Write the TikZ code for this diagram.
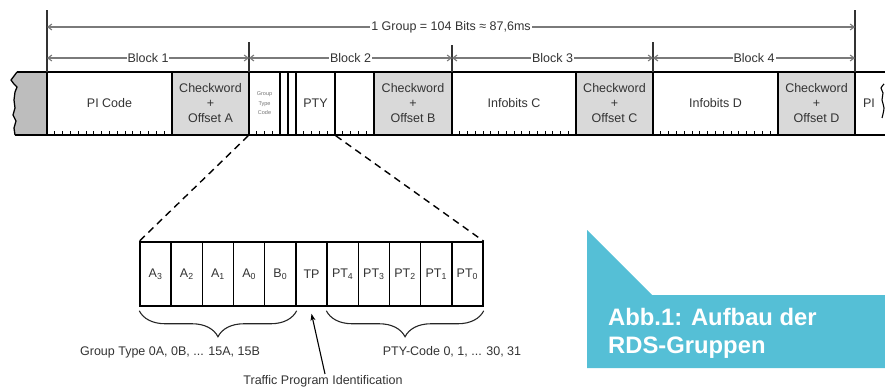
\documentclass[tikz,border=0pt]{standalone}
\usepackage{fontspec}
\setmainfont{Liberation Sans}
\usetikzlibrary{arrows.meta,decorations.pathreplacing,calc}
\definecolor{cwgray}{HTML}{D9D9D9}
\definecolor{torngray}{HTML}{BDBDBD}
\definecolor{dimgray}{HTML}{7A7A7A}
\definecolor{txt}{HTML}{333333}
\definecolor{callout}{HTML}{55BFD6}
\begin{document}
\begin{tikzpicture}[x=1pt,y=-1pt,
  cell/.style={draw=black, line width=1.5pt, inner sep=0pt, minimum height=63pt, text=txt,
    font=\fontsize{12.5}{15}\selectfont, align=center},
  gcell/.style={cell, fill=cwgray},
  lcell/.style={draw=black, line width=1.5pt, inner sep=0pt, minimum width=31.18pt,
    minimum height=64pt, text=txt, font=\fontsize{12.5}{14}\selectfont},
  dim/.style={draw=dimgray, line width=1.1pt,
    {Straight Barb[length=4pt,width=6pt]}-{Straight Barb[length=4pt,width=6pt]}},
  dimlabel/.style={fill=white, inner sep=1pt, text=txt, font=\fontsize{12.5}{15}\selectfont},
  lbl/.style={text=txt, font=\fontsize{12.5}{15}\selectfont, inner sep=0pt},
  tickmark/.style={line width=1pt},
  ext/.style={line width=1.3pt, draw=black!80},
]
\path[use as bounding box] (0,0) rectangle (885,388);

% torn left edge
\fill[torngray] (47,72) -- (17,72) -- (14,76) -- (11,80) -- (14,84) -- (17,87) -- (15,92) -- (14,100)
  -- (15,108) -- (13,115) -- (16,121) -- (14,128) -- (15,135) -- (47,135) -- cycle;
\draw[line width=1.3pt, line join=round] (17,72) -- (14,76) -- (11,80) -- (14,84) -- (17,87) -- (15,92)
  -- (14,100) -- (15,108) -- (13,115) -- (16,121) -- (14,128) -- (15,135);

% cells of the group
\node[cell, minimum width=125pt] (pi) at (109.5,103.5) {PI Code};
\node[gcell, minimum width=77pt] (cwA) at (210.5,103.5) {Checkword\\+\\Offset A};
\node[cell, minimum width=31pt, font=\fontsize{5.5}{9.5}\selectfont, text=black!55] (gtc) at (264.5,103.5) {Group\\Type\\Code};
\node[cell, minimum width=8pt] (bz) at (284,103.5) {};
\node[cell, minimum width=8pt] (tpb) at (292,103.5) {};
\node[cell, minimum width=39pt] (pty) at (315.5,103.5) {PTY};
\node[cell, minimum width=39pt] (rest) at (354.5,103.5) {};
\node[gcell, minimum width=78pt] (cwB) at (413,103.5) {Checkword\\+\\Offset B};
\node[cell, minimum width=124pt] (infC) at (514,103.5) {Infobits C};
\node[gcell, minimum width=77pt] (cwC) at (614.5,103.5) {Checkword\\+\\Offset C};
\node[cell, minimum width=125pt] (infD) at (715.5,103.5) {Infobits D};
\node[gcell, minimum width=77pt] (cwD) at (816.5,103.5) {Checkword\\+\\Offset D};
\node[lbl] (pinext) at (869,103.5) {PI};

% frame lines
\draw[line width=1.6pt] (17,72) -- (885,72);
\draw[line width=1.6pt] (15,135) -- (885,135);
\draw[line width=1.1pt] plot[smooth] coordinates {(884,84) (881,88) (883,93) (882,100) (884,108) (882,118)};

% bit ticks
\foreach \k in {1,...,15}{
  \draw[tickmark] ({47+\k*7.8125},135) -- ++(0,-4);
  \draw[tickmark] ({249+\k*7.8125},135) -- ++(0,-4);
  \draw[tickmark] ({452+\k*7.75},135) -- ++(0,-4);
  \draw[tickmark] ({653+\k*7.8125},135) -- ++(0,-4);
}

% extension lines
\draw[ext] (47,10) -- (47,72);
\draw[ext] (855,10) -- (855,72);
\draw[ext] (249,42) -- (249,72);
\draw[ext] (452,45) -- (452,72);
\draw[ext] (653,42) -- (653,72);

% dimension lines
\coordinate (gL) at (47,27); \coordinate (gR) at (855,27);
\coordinate (b1) at (47,58); \coordinate (b2) at (249,58); \coordinate (b3) at (452,58);
\coordinate (b4) at (653,58); \coordinate (b5) at (855,58);
\draw[dim] (gL) -- (gR) node[dimlabel, midway] (grp) {1 Group = 104 Bits ≈ 87,6ms};
\draw[dim] (b1) -- (b2) node[dimlabel, midway] (blk1) {Block 1};
\draw[dim] (b2) -- (b3) node[dimlabel, midway] (blk2) {Block 2};
\draw[dim] (b3) -- (b4) node[dimlabel, midway] (blk3) {Block 3};
\draw[dim] (b4) -- (b5) node[dimlabel, midway] (blk4) {Block 4};

% lower expanded cells
\foreach \n/\t [count=\i from 0] in {a3/A\textsubscript{3}, a2/A\textsubscript{2}, a1/A\textsubscript{1},
  a0/A\textsubscript{0}, b0/B\textsubscript{0}, tp/TP, pt4/PT\textsubscript{4}, pt3/PT\textsubscript{3},
  pt2/PT\textsubscript{2}, pt1/PT\textsubscript{1}, pt0/PT\textsubscript{0}}{
  \node[lcell] (\n) at ({140+31.1818*(\i+0.5)},274) {\t};
}

% zoom lines
\draw[line width=1.4pt, dash pattern=on 7pt off 5pt] (gtc.south west) -- (a3.north west);
\draw[line width=1.4pt, dash pattern=on 7pt off 5pt] (pty.south east) -- (pt0.north east);

% braces
\draw[decorate, decoration={brace, mirror, amplitude=26pt}, line width=1.1pt, draw=black!85]
  ($(a3.south west)+(0,4)$) -- ($(b0.south east)+(0,4)$);
\draw[decorate, decoration={brace, mirror, amplitude=26pt}, line width=1.1pt, draw=black!85]
  ($(pt4.south west)+(0,4)$) -- ($(pt0.south east)+(0,4)$);

\node[lbl] (gtype) at (170,352) {Group Type 0A, 0B, ... 15A, 15B};
\node[lbl] (ptycode) at (452,352) {PTY-Code 0, 1, ... 30, 31};
\node[lbl] (traffic) at (323,381) {Traffic Program Identification};
\draw[line width=1.1pt, -{Stealth[length=7pt,width=5pt]}] ($(traffic.north)+(2,-1)$) -- ($(tp.south)+(0,7)$);

% callout
\fill[callout] (587,230) -- (652,295) -- (885,295) -- (885,368) -- (587,368) -- cycle;
\node[anchor=base west, text=white, inner sep=0pt, font=\fontsize{23.8}{28}\selectfont\bfseries] (cap1) at (608,325) {Abb.1: Aufbau der};
\node[anchor=base west, text=white, inner sep=0pt, font=\fontsize{23.8}{28}\selectfont\bfseries] (cap2) at (608,353) {RDS-Gruppen};
\end{tikzpicture}
\end{document}
